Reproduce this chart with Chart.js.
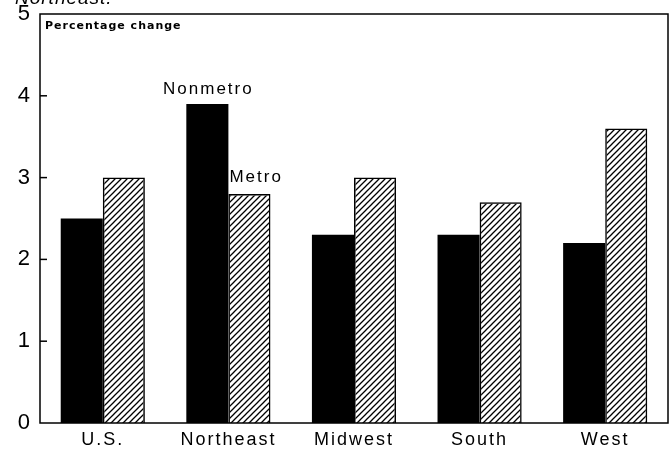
<!DOCTYPE html>
<html lang="en">
<head>
  <meta charset="UTF-8">
  <title>Percentage change, nonmetro vs metro</title>
  <script src="https://cdn.jsdelivr.net/npm/chart.js"></script>
  <style>
    body { margin: 0; background: #fff; }
  </style>
</head>
<body>
  <canvas id="regionChart" width="672" height="453"></canvas>

  <script>
    const regions = ["U.S.", "Northeast", "Midwest", "South", "West"];
    const nonmetro = [2.5, 3.9, 2.3, 2.3, 2.2];
    const metro = [3.0, 2.8, 3.0, 2.7, 3.6];
    const yTicks = [0, 1, 2, 3, 4, 5];

    // diagonal hatch for the metro bars
    function makeHatch() {
      const c = document.createElement("canvas");
      c.width = 6;
      c.height = 6;
      const g = c.getContext("2d");
      g.strokeStyle = "#000";
      g.lineWidth = 1.3;
      g.beginPath();
      g.moveTo(-1, 7); g.lineTo(7, -1);
      g.moveTo(-1, 1); g.lineTo(1, -1);
      g.moveTo(5, 7); g.lineTo(7, 5);
      g.stroke();
      return g.createPattern(c, "repeat");
    }

    // frame, inner ticks and the text notes
    const framePlugin = {
      id: "frame",
      beforeDraw(chart) {
        // the scanned lettering is widely spaced
        chart.ctx.letterSpacing = "2px";
      },
      afterDraw(chart) {
        const { ctx, chartArea: a, scales } = chart;
        ctx.save();
        ctx.strokeStyle = "#000";
        ctx.lineWidth = 1.5;
        ctx.strokeRect(a.left, a.top, a.right - a.left, a.bottom - a.top);

        yTicks.slice(1, -1).forEach(v => {
          const y = scales.y.getPixelForValue(v);
          ctx.beginPath();
          ctx.moveTo(a.left, y);
          ctx.lineTo(a.left + 7, y);
          ctx.stroke();
        });

        ctx.fillStyle = "#000";
        ctx.letterSpacing = "1px";
        ctx.font = "bold 11px 'DejaVu Sans'";
        ctx.textAlign = "left";
        ctx.textBaseline = "middle";
        ctx.fillText("Percentage change", a.left + 5, a.top + 12);

        const nm = chart.getDatasetMeta(0).data[1];
        const mt = chart.getDatasetMeta(1).data[1];
        ctx.letterSpacing = "2px";
        ctx.font = "17px 'Liberation Sans'";
        ctx.textAlign = "center";
        ctx.fillText("Nonmetro", nm.x + 1, nm.y - 15);
        ctx.textAlign = "left";
        ctx.fillText("Metro", mt.x - mt.width / 2 + 1, mt.y - 17);

        ctx.letterSpacing = "1px";
        ctx.font = "italic 19px 'Liberation Sans'";
        ctx.textBaseline = "alphabetic";
        ctx.fillText("Northeast.", 15, 4);
        ctx.restore();
      }
    };

    const ctx = document.getElementById("regionChart").getContext("2d");
    new Chart(ctx, {
      type: "bar",
      data: {
        labels: regions,
        datasets: [
          {
            label: "Nonmetro",
            data: nonmetro,
            backgroundColor: "#000",
            borderColor: "#000",
            borderWidth: 0
          },
          {
            label: "Metro",
            data: metro,
            backgroundColor: makeHatch(),
            borderColor: "#000",
            borderWidth: 1.5
          }
        ]
      },
      options: {
        responsive: false,
        animation: false,
        layout: { padding: { top: 14, right: 4, left: 0, bottom: 0 } },
        categoryPercentage: 0.67,
        barPercentage: 1,
        plugins: {
          legend: { display: false },
          tooltip: { enabled: false }
        },
        scales: {
          x: {
            grid: { display: false, drawTicks: false },
            border: { display: false },
            ticks: {
              color: "#000",
              padding: 6,
              font: { family: "Liberation Sans", size: 18 }
            },
            afterFit(scale) {
              scale.height = 30;
              scale.paddingLeft = 0;
              scale.paddingRight = 0;
            }
          },
          y: {
            min: 0,
            max: 5,
            grid: { display: false, drawTicks: false },
            border: { display: false },
            ticks: {
              stepSize: 1,
              color: "#000",
              padding: 8,
              font: { family: "Liberation Sans", size: 22 }
            },
            afterFit(scale) {
              scale.width = 40;
              scale.paddingTop = 0;
              scale.paddingBottom = 0;
            }
          }
        }
      },
      plugins: [framePlugin]
    });
  </script>
</body>
</html>
